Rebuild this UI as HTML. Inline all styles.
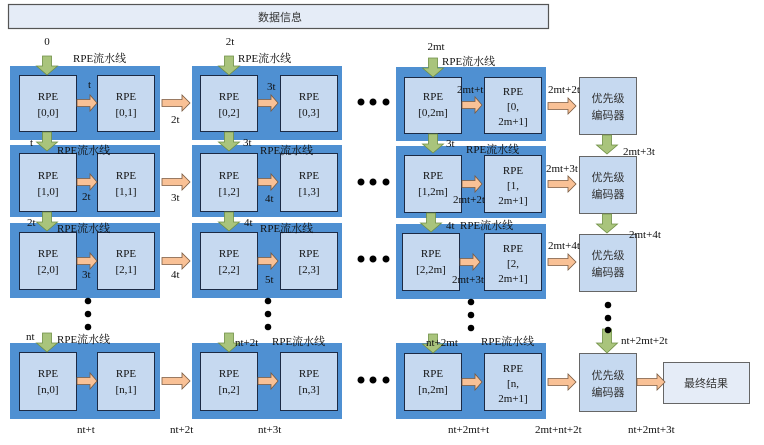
<!DOCTYPE html>
<html><head><meta charset="utf-8"><style>
html,body{margin:0;padding:0;background:#fff;}
svg{display:block;}
text{font-family:"Liberation Serif","Noto Serif CJK SC",serif;font-size:11px;fill:#111;}
.c{text-anchor:middle;}
.cj{font-family:"Liberation Sans","Noto Sans CJK SC",sans-serif;font-size:11px;fill:#333;}
</style></head><body>
<svg width="764" height="445" viewBox="0 0 764 445" xmlns="http://www.w3.org/2000/svg">
<defs>
<polygon id="g" points="-4.5,0 4.5,0 4.5,10 10.5,10 0,19 -10.5,10 -4.5,10" fill="#a9c47c" stroke="#6f8f45" stroke-width="0.8"/>
<polygon id="o" points="0,-3.5 13,-3.5 13,-8 20,0 13,8 13,3.5 0,3.5" fill="#f9c196" stroke="#7a5a40" stroke-width="0.8"/>
<polygon id="ol" points="0,-3.5 20,-3.5 20,-8 28,0 20,8 20,3.5 0,3.5" fill="#f9c196" stroke="#7a5a40" stroke-width="0.8"/>
</defs>
<rect x="8.5" y="4.5" width="540" height="24" fill="#e5ecf7" stroke="#555" stroke-width="1.2"/>
<text x="280" y="21" class="c cj">数据信息</text>

<g fill="#4f90d2">
<rect x="10" y="66" width="150" height="74"/><rect x="192" y="66" width="150" height="74"/><rect x="396" y="67" width="150" height="74"/>
<rect x="10" y="145" width="150" height="72"/><rect x="192" y="145" width="150" height="72"/><rect x="396" y="146" width="150" height="72"/>
<rect x="10" y="223" width="150" height="75"/><rect x="192" y="223" width="150" height="75"/><rect x="396" y="224" width="150" height="75"/>
<rect x="10" y="343" width="150" height="76"/><rect x="192" y="343" width="150" height="76"/><rect x="396" y="343" width="150" height="76"/>
</g>
<g fill="#c6d9f0" stroke="#1c2a44" stroke-width="1">
<rect x="19.5" y="75.5" width="57" height="56"/><rect x="97.5" y="75.5" width="57" height="56"/><rect x="200.5" y="75.5" width="57" height="56"/><rect x="280.5" y="75.5" width="57" height="56"/><rect x="404.5" y="77.5" width="57" height="56"/><rect x="484.5" y="77.5" width="57" height="56"/>
<rect x="19.5" y="153.5" width="57" height="58"/><rect x="97.5" y="153.5" width="57" height="58"/><rect x="200.5" y="153.5" width="57" height="58"/><rect x="280.5" y="153.5" width="57" height="58"/><rect x="404.5" y="155.5" width="57" height="57"/><rect x="484.5" y="155.5" width="57" height="57"/>
<rect x="19.5" y="232.5" width="57" height="57"/><rect x="97.5" y="232.5" width="57" height="57"/><rect x="200.5" y="232.5" width="57" height="57"/><rect x="280.5" y="232.5" width="57" height="57"/><rect x="402.5" y="233.5" width="57" height="57"/><rect x="484.5" y="233.5" width="57" height="57"/>
<rect x="19.5" y="352.5" width="57" height="58"/><rect x="97.5" y="352.5" width="57" height="58"/><rect x="200.5" y="352.5" width="57" height="58"/><rect x="280.5" y="352.5" width="57" height="58"/><rect x="404.5" y="353.5" width="57" height="57"/><rect x="484.5" y="353.5" width="57" height="57"/>
</g>
<g fill="#c6d9f0" stroke="#666" stroke-width="1">
<rect x="579.5" y="77.5" width="57" height="57"/><rect x="579.5" y="156.5" width="57" height="57"/><rect x="579.5" y="234.5" width="57" height="57"/><rect x="579.5" y="353.5" width="57" height="58"/>
</g>
<rect x="663.5" y="362.5" width="86" height="41" fill="#e5ecf7" stroke="#666"/>
<text x="706" y="387" class="c cj">最终结果</text>

<g>
<text x="48" y="100" class="c">RPE</text><text x="48" y="116" class="c">[0,0]</text>
<text x="126" y="100" class="c">RPE</text><text x="126" y="116" class="c">[0,1]</text>
<text x="229" y="100" class="c">RPE</text><text x="229" y="116" class="c">[0,2]</text>
<text x="309" y="100" class="c">RPE</text><text x="309" y="116" class="c">[0,3]</text>
<text x="433" y="100" class="c">RPE</text><text x="433" y="116" class="c">[0,2m]</text>
<text x="513" y="95" class="c">RPE</text><text x="513" y="110" class="c">[0,</text><text x="513" y="125" class="c">2m+1]</text>

<text x="48" y="179" class="c">RPE</text><text x="48" y="195" class="c">[1,0]</text>
<text x="126" y="179" class="c">RPE</text><text x="126" y="195" class="c">[1,1]</text>
<text x="229" y="179" class="c">RPE</text><text x="229" y="195" class="c">[1,2]</text>
<text x="309" y="179" class="c">RPE</text><text x="309" y="195" class="c">[1,3]</text>
<text x="433" y="179" class="c">RPE</text><text x="433" y="195" class="c">[1,2m]</text>
<text x="513" y="174" class="c">RPE</text><text x="513" y="189" class="c">[1,</text><text x="513" y="204" class="c">2m+1]</text>

<text x="48" y="257" class="c">RPE</text><text x="48" y="273" class="c">[2,0]</text>
<text x="126" y="257" class="c">RPE</text><text x="126" y="273" class="c">[2,1]</text>
<text x="229" y="257" class="c">RPE</text><text x="229" y="273" class="c">[2,2]</text>
<text x="309" y="257" class="c">RPE</text><text x="309" y="273" class="c">[2,3]</text>
<text x="431" y="257" class="c">RPE</text><text x="431" y="273" class="c">[2,2m]</text>
<text x="513" y="252" class="c">RPE</text><text x="513" y="267" class="c">[2,</text><text x="513" y="282" class="c">2m+1]</text>

<text x="48" y="377" class="c">RPE</text><text x="48" y="393" class="c">[n,0]</text>
<text x="126" y="377" class="c">RPE</text><text x="126" y="393" class="c">[n,1]</text>
<text x="229" y="377" class="c">RPE</text><text x="229" y="393" class="c">[n,2]</text>
<text x="309" y="377" class="c">RPE</text><text x="309" y="393" class="c">[n,3]</text>
<text x="433" y="377" class="c">RPE</text><text x="433" y="393" class="c">[n,2m]</text>
<text x="513" y="372" class="c">RPE</text><text x="513" y="387" class="c">[n,</text><text x="513" y="402" class="c">2m+1]</text>
</g>
<g>
<text x="608" y="102" class="c cj">优先级</text><text x="608" y="119" class="c cj">编码器</text>
<text x="608" y="181" class="c cj">优先级</text><text x="608" y="198" class="c cj">编码器</text>
<text x="608" y="259" class="c cj">优先级</text><text x="608" y="276" class="c cj">编码器</text>
<text x="608" y="379" class="c cj">优先级</text><text x="608" y="396" class="c cj">编码器</text>
</g>

<use href="#o" x="77" y="103"/><use href="#o" x="258" y="103"/><use href="#o" x="462" y="105"/>
<use href="#o" x="77" y="182"/><use href="#o" x="258" y="182"/><use href="#o" x="462" y="184"/>
<use href="#o" x="77" y="261"/><use href="#o" x="258" y="261"/><use href="#o" x="460" y="262"/>
<use href="#o" x="77" y="381"/><use href="#o" x="258" y="381"/><use href="#o" x="462" y="382"/>
<use href="#ol" x="162" y="103"/><use href="#ol" x="162" y="182"/><use href="#ol" x="162" y="261"/><use href="#ol" x="162" y="381"/>
<use href="#ol" x="548" y="106"/><use href="#ol" x="548" y="184"/><use href="#ol" x="548" y="262"/><use href="#ol" x="548" y="382"/>
<use href="#ol" x="637" y="382"/>

<use href="#g" x="47" y="56"/><use href="#g" x="229" y="56"/><use href="#g" x="433" y="58"/>
<use href="#g" x="47" y="132"/><use href="#g" x="229" y="132"/><use href="#g" x="433" y="134"/>
<use href="#g" x="47" y="212"/><use href="#g" x="229" y="212"/><use href="#g" x="431" y="213"/>
<use href="#g" x="47" y="333"/><use href="#g" x="229" y="333"/><use href="#g" x="433" y="334"/>
<use href="#g" x="607" y="135"/><use href="#g" x="607" y="214"/>
<polygon points="602.5,329 611.5,329 611.5,343 617.5,343 607,353 596.5,343 602.5,343" fill="#a9c47c" stroke="#6f8f45" stroke-width="0.8"/>

<g fill="#000">
<circle cx="361" cy="102" r="3.5"/><circle cx="373" cy="102" r="3.5"/><circle cx="386" cy="102" r="3.5"/>
<circle cx="361" cy="182" r="3.5"/><circle cx="373" cy="182" r="3.5"/><circle cx="386" cy="182" r="3.5"/>
<circle cx="361" cy="259" r="3.5"/><circle cx="373" cy="259" r="3.5"/><circle cx="386" cy="259" r="3.5"/>
<circle cx="361" cy="380" r="3.5"/><circle cx="373" cy="380" r="3.5"/><circle cx="386" cy="380" r="3.5"/>
<circle cx="88" cy="301" r="3.3"/><circle cx="88" cy="314" r="3.3"/><circle cx="88" cy="327" r="3.3"/>
<circle cx="268" cy="301" r="3.3"/><circle cx="268" cy="314" r="3.3"/><circle cx="268" cy="327" r="3.3"/>
<circle cx="471" cy="302" r="3.3"/><circle cx="471" cy="315" r="3.3"/><circle cx="471" cy="328" r="3.3"/>
<circle cx="608" cy="305" r="3.3"/><circle cx="608" cy="318" r="3.3"/><circle cx="608" cy="330" r="3.3"/>
</g>

<g>
<text x="47" y="45" class="c">0</text><text x="230" y="45" class="c">2t</text><text x="436" y="50" class="c">2mt</text>
<text x="73" y="62">RPE流水线</text><text x="238" y="62">RPE流水线</text><text x="442" y="65">RPE流水线</text>
<text x="57" y="154">RPE流水线</text><text x="260" y="154">RPE流水线</text><text x="466" y="153">RPE流水线</text>
<text x="57" y="232">RPE流水线</text><text x="260" y="232">RPE流水线</text><text x="460" y="229">RPE流水线</text>
<text x="57" y="343">RPE流水线</text><text x="272" y="345">RPE流水线</text><text x="481" y="345">RPE流水线</text>

<text x="88" y="88">t</text><text x="171" y="123">2t</text><text x="267" y="90">3t</text><text x="457" y="93">2mt+t</text><text x="548" y="93">2mt+2t</text>
<text x="30" y="146">t</text><text x="243" y="146">3t</text><text x="446" y="147">3t</text><text x="623" y="155">2mt+3t</text>
<text x="82" y="200">2t</text><text x="171" y="201">3t</text><text x="265" y="202">4t</text><text x="546" y="172">2mt+3t</text><text x="453" y="203">2mt+2t</text>
<text x="27" y="226">2t</text><text x="244" y="226">4t</text><text x="446" y="229">4t</text><text x="629" y="238">2mt+4t</text>
<text x="82" y="278">3t</text><text x="171" y="278">4t</text><text x="265" y="283">5t</text><text x="548" y="249">2mt+4t</text><text x="452" y="283">2mt+3t</text>
<text x="26" y="340">nt</text><text x="235" y="346">nt+2t</text><text x="426" y="346">nt+2mt</text><text x="621" y="344">nt+2mt+2t</text>
<text x="77" y="433">nt+t</text><text x="170" y="433">nt+2t</text><text x="258" y="433">nt+3t</text><text x="448" y="433">nt+2mt+t</text><text x="535" y="433">2mt+nt+2t</text><text x="628" y="433">nt+2mt+3t</text>
</g>
</svg>
</body></html>
